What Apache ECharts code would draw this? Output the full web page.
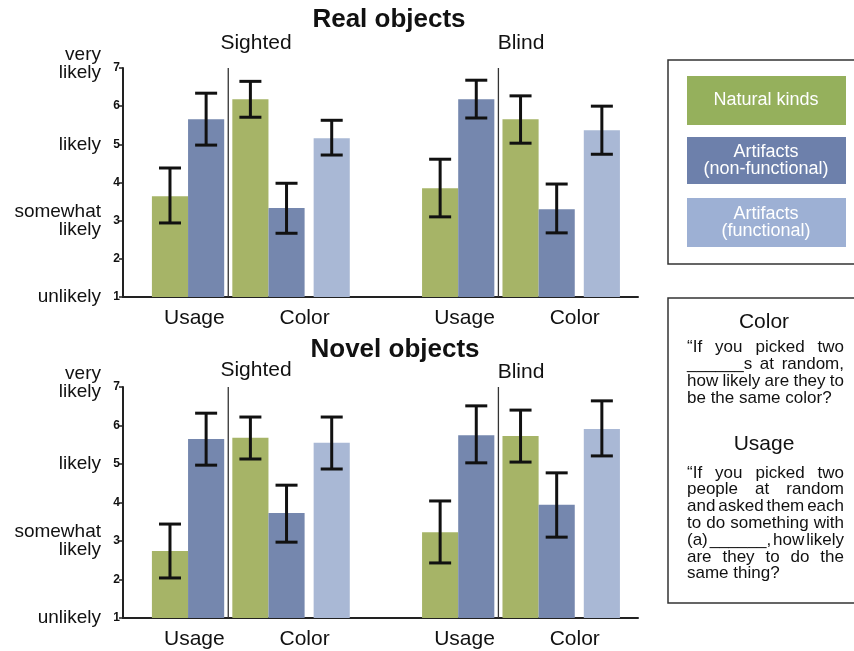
<!DOCTYPE html>
<html>
<head>
<meta charset="utf-8">
<script src="https://cdn.jsdelivr.net/npm/echarts@6/dist/echarts.min.js"></script>
<style>
html, body { margin: 0; padding: 0; background: #fff; }
#chart { width: 854px; height: 651px; }
</style>
</head>
<body>
<div id="chart"></div>
<script>
const FONT = '"Liberation Sans", Arial, Helvetica, sans-serif'

// ---- data ----
const panels = ['Real objects', 'Novel objects']
const groups = ['Sighted', 'Blind']
const questions = ['Usage', 'Color']
const kinds = ['Natural kinds', 'Artifacts\n(non-functional)', 'Artifacts\n(functional)']
// bar order in a group: Usage natural, Usage non-functional, Color natural, Color non-functional, Color functional
const barKind = [0, 1, 0, 1, 2]
const verbalTicks = ['unlikely', '', 'somewhat\nlikely', '', 'likely', '', 'very\nlikely']

const realSightedMean = [3.64, 5.66, 6.18, 3.33, 5.16]
const realSightedLo = [2.94, 4.98, 5.71, 2.67, 4.72]
const realSightedHi = [4.38, 6.34, 6.65, 3.98, 5.63]
const realBlindMean = [3.85, 6.18, 5.66, 3.30, 5.37]
const realBlindLo = [3.10, 5.69, 5.03, 2.68, 4.74]
const realBlindHi = [4.61, 6.68, 6.27, 3.96, 6.00]

const novelSightedMean = [2.74, 5.65, 5.68, 3.73, 5.55]
const novelSightedLo = [2.04, 4.97, 5.13, 2.97, 4.87]
const novelSightedHi = [3.44, 6.32, 6.22, 4.45, 6.22]
const novelBlindMean = [3.23, 5.75, 5.73, 3.94, 5.91]
const novelBlindLo = [2.43, 5.03, 5.05, 3.10, 5.21]
const novelBlindHi = [4.04, 6.51, 6.40, 4.77, 6.64]

const noteColor = ['“If you picked two', '______s at random,', 'how likely are they to', 'be the same color?']
const noteUsage = ['“If you picked two', 'people at random', 'and asked them each', 'to do something with',
  '(a) ______, how likely', 'are they to do the', 'same thing?']

// ---- layout (x axis runs 0..57 units, one bar is 4 units) ----
const BAR_W = 4
const groupStart = [3.2, 33.1]
const barOffset = [0, 4, 8.9, 12.9, 17.9]
const sepOffset = 8.45
const labelOffset = [4.7, 16.9]

const barColors = ['#a6b467', '#7587ae', '#a9b8d5']
const legendColors = ['#95b05c', '#6d80ab', '#9db0d4']

const panelSets = [
  [[realSightedMean, realSightedLo, realSightedHi], [realBlindMean, realBlindLo, realBlindHi]],
  [[novelSightedMean, novelSightedLo, novelSightedHi], [novelBlindMean, novelBlindLo, novelBlindHi]]
]

const gridTops = [68, 387]
const gridHeights = [229, 231]

const grids = gridTops.map((t, i) => ({ left: 123, top: t, width: 515, height: gridHeights[i] }))

const xAxes = panels.map((_, p) => ({
  type: 'value', gridIndex: p, min: 0, max: 57,
  axisLine: { show: true, onZero: false, lineStyle: { color: '#222', width: 2 } },
  axisTick: { show: false }, axisLabel: { show: false }, splitLine: { show: false }
}))

const yAxes = []
panels.forEach((_, p) => {
  // numeric ticks
  yAxes.push({
    type: 'value', gridIndex: p, position: 'left', min: 1, max: 7, interval: 1,
    axisLine: { show: true, lineStyle: { color: '#222', width: 2 } },
    axisTick: { show: true, length: 4, lineStyle: { color: '#222', width: 1.5 } },
    axisLabel: { margin: 3, color: '#111', fontSize: 12, fontWeight: 'bold', fontFamily: FONT },
    splitLine: { show: false }
  })
  // verbal anchors
  yAxes.push({
    type: 'value', gridIndex: p, position: 'left', min: 1, max: 7, interval: 1, offset: 14,
    axisLine: { show: false }, axisTick: { show: false }, splitLine: { show: false },
    axisLabel: {
      margin: 8, color: '#111', fontSize: 19, lineHeight: 18, fontFamily: FONT,
      formatter: v => {
        const t = verbalTicks[v - 1] || ''
        if (v === 7) return t.split('\n').map(s => '{w|' + s + '}').join('\n') + '\n{gap| }'
        return t
      },
      rich: {
        w: { fontSize: 19, lineHeight: 18, fontFamily: FONT, color: '#111' },
        gap: { fontSize: 8, lineHeight: 8 }
      }
    }
  })
})

const series = []
panels.forEach((_, p) => {
  const bars = []
  const errs = []
  const seps = []
  const labels = []
  groups.forEach((g, gi) => {
    const [mean, lo, hi] = panelSets[p][gi]
    mean.forEach((m, b) => {
      const x = groupStart[gi] + barOffset[b]
      bars.push([x, m, barKind[b]])
      errs.push([x + BAR_W / 2, lo[b], hi[b]])
    })
    seps.push([groupStart[gi] + sepOffset])
    questions.forEach((q, qi) => labels.push([groupStart[gi] + labelOffset[qi], qi]))
  })

  series.push({
    type: 'custom', xAxisIndex: p, yAxisIndex: p * 2, silent: true,
    data: bars,
    renderItem: (params, api) => {
      const a = api.coord([api.value(0), api.value(1)])
      const b = api.coord([api.value(0) + BAR_W, 1])
      return {
        type: 'rect',
        shape: { x: a[0], y: a[1], width: b[0] - a[0], height: b[1] - a[1] },
        style: { fill: barColors[api.value(2)] }
      }
    }
  })
  series.push({
    type: 'custom', xAxisIndex: p, yAxisIndex: p * 2, silent: true, z: 3,
    data: seps,
    renderItem: (params, api) => {
      const a = api.coord([api.value(0), 7])
      const b = api.coord([api.value(0), 1])
      return { type: 'line', shape: { x1: a[0], y1: a[1], x2: b[0], y2: b[1] }, style: { stroke: '#333', lineWidth: 1.3 } }
    }
  })
  series.push({
    type: 'custom', xAxisIndex: p, yAxisIndex: p * 2, silent: true, z: 4,
    data: errs,
    renderItem: (params, api) => {
      const top = api.coord([api.value(0), api.value(2)])
      const bot = api.coord([api.value(0), api.value(1)])
      const cap = 11
      const st = { stroke: '#111', lineWidth: 3 }
      return {
        type: 'group',
        children: [
          { type: 'line', shape: { x1: top[0], y1: top[1], x2: bot[0], y2: bot[1] }, style: st },
          { type: 'line', shape: { x1: top[0] - cap, y1: top[1], x2: top[0] + cap, y2: top[1] }, style: st },
          { type: 'line', shape: { x1: bot[0] - cap, y1: bot[1], x2: bot[0] + cap, y2: bot[1] }, style: st }
        ]
      }
    }
  })
  series.push({
    type: 'custom', xAxisIndex: p, yAxisIndex: p * 2, silent: true,
    data: labels,
    renderItem: (params, api) => {
      const pt = api.coord([api.value(0), 1])
      return {
        type: 'text', x: pt[0], y: pt[1] + 21,
        style: { text: questions[api.value(1)], fill: '#111', font: '21px ' + FONT, align: 'center', verticalAlign: 'middle' }
      }
    }
  })
})

// ---- titles, legend box and note box ----
const graphic = []
const txt = (text, x, y, font, extra) => ({
  type: 'text', x, y,
  style: Object.assign({ text, font, fill: '#111', align: 'center', verticalAlign: 'middle' }, extra || {})
})

graphic.push(txt(panels[0], 389, 20, 'bold 26px ' + FONT))
graphic.push(txt(groups[0], 256, 43, '21px ' + FONT))
graphic.push(txt(groups[1], 521, 43, '21px ' + FONT))
graphic.push(txt(panels[1], 395, 350, 'bold 26px ' + FONT))
graphic.push(txt(groups[0], 256, 370, '21px ' + FONT))
graphic.push(txt(groups[1], 521, 372, '21px ' + FONT))

graphic.push({ type: 'rect', shape: { x: 668, y: 60, width: 200, height: 204 }, style: { fill: 'none', stroke: '#333', lineWidth: 1.5 } })
const legendY = [76, 137, 198]
const legendH = [49, 47, 49]
kinds.forEach((k, i) => {
  graphic.push({ type: 'rect', shape: { x: 687, y: legendY[i], width: 159, height: legendH[i] }, style: { fill: legendColors[i] } })
  graphic.push(txt(k, 766, legendY[i] + legendH[i] / 2, '18px ' + FONT, { fill: '#fff', lineHeight: 17 }))
})

graphic.push({ type: 'rect', shape: { x: 668, y: 298, width: 200, height: 305 }, style: { fill: 'none', stroke: '#333', lineWidth: 1.5 } })
graphic.push(txt(questions[1], 764, 322, '21px ' + FONT))
graphic.push(txt(questions[0], 764, 444, '21px ' + FONT))

const measure = document.createElement('canvas').getContext('2d')
function justifiedLine (text, x0, width, y, last) {
  const font = '17px ' + FONT
  const words = text.split(' ')
  const base = { font, fill: '#111', align: 'left', verticalAlign: 'middle' }
  if (last || words.length < 2) return [{ type: 'text', x: x0, y, style: Object.assign({ text }, base) }]
  measure.font = font
  const w = words.map(s => measure.measureText(s).width)
  const gap = (width - w.reduce((a, b) => a + b, 0)) / (words.length - 1)
  let x = x0
  return words.map((s, i) => {
    const el = { type: 'text', x, y, style: Object.assign({ text: s }, base) }
    x += w[i] + gap
    return el
  })
}
noteColor.forEach((l, i) => graphic.push(...justifiedLine(l, 687, 157, 347 + i * 17, i === noteColor.length - 1)))
noteUsage.forEach((l, i) => graphic.push(...justifiedLine(l, 687, 157, 473 + i * 16.8, i === noteUsage.length - 1)))

const chart = echarts.init(document.getElementById('chart'))
chart.setOption({
  animation: false,
  textStyle: { fontFamily: FONT },
  grid: grids,
  xAxis: xAxes,
  yAxis: yAxes,
  series,
  graphic
})
</script>
</body>
</html>
